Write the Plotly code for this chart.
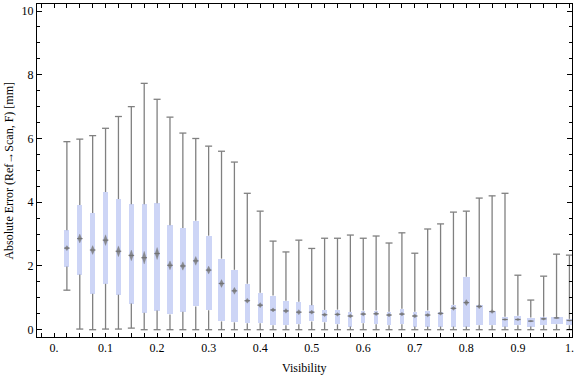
import plotly.graph_objects as go

# ---------------- data ----------------
visibility = [0.025, 0.05, 0.075, 0.1, 0.125, 0.15, 0.175, 0.2, 0.225, 0.25,
              0.275, 0.3, 0.325, 0.35, 0.375, 0.4, 0.425, 0.45, 0.475, 0.5,
              0.525, 0.55, 0.575, 0.6, 0.625, 0.65, 0.675, 0.7, 0.725, 0.75,
              0.775, 0.8, 0.825, 0.85, 0.875, 0.9, 0.925, 0.95, 0.975, 1.0]

err_max = [5.90, 5.98, 6.09, 6.32, 6.69, 7.00, 7.73, 7.23, 6.67, 6.17,
           6.00, 5.76, 5.60, 5.26, 4.28, 3.72, 2.78, 2.44, 2.81, 2.55,
           2.87, 2.87, 2.97, 2.87, 2.94, 2.72, 3.04, 2.40, 3.16, 3.32,
           3.69, 3.72, 4.13, 4.20, 4.28, 1.71, 0.93, 1.68, 2.37, 2.34]

err_q3 = [3.12, 3.91, 3.66, 4.32, 4.10, 3.94, 3.94, 3.97, 3.28, 3.19,
          3.42, 2.95, 2.23, 1.88, 1.44, 1.16, 1.07, 0.91, 0.88, 0.77,
          0.62, 0.63, 0.56, 0.60, 0.60, 0.56, 0.66, 0.56, 0.60, 0.55,
          0.78, 1.66, 0.78, 0.60, 0.41, 0.44, 0.38, 0.41, 0.39, 0.34]

err_median = [2.56, 2.86, 2.50, 2.81, 2.46, 2.33, 2.26, 2.39, 2.02, 2.00,
              2.16, 1.87, 1.45, 1.22, 0.91, 0.77, 0.62, 0.59, 0.55, 0.55,
              0.47, 0.48, 0.43, 0.49, 0.50, 0.46, 0.49, 0.43, 0.46, 0.51,
              0.67, 0.85, 0.73, 0.57, 0.32, 0.32, 0.27, 0.34, 0.37, 0.29]

err_q1 = [1.98, 1.73, 1.13, 1.44, 1.10, 0.82, 0.53, 0.60, 0.48, 0.56,
          0.73, 0.61, 0.26, 0.23, 0.20, 0.20, 0.14, 0.14, 0.17, 0.26,
          0.23, 0.17, 0.10, 0.20, 0.17, 0.14, 0.17, 0.10, 0.10, 0.10,
          0.10, 0.10, 0.14, 0.14, 0.10, 0.14, 0.10, 0.14, 0.17, 0.14]

err_min = [1.24, 0.02, 0.00, 0.02, 0.02, 0.05, 0.00, 0.00, 0.00, 0.00,
           0.00, 0.00, 0.00, 0.00, 0.00, 0.00, 0.00, 0.00, 0.00, 0.00,
           0.00, 0.00, 0.00, 0.00, 0.00, 0.00, 0.00, 0.00, 0.00, 0.00,
           0.00, 0.00, 0.00, 0.00, 0.00, 0.00, 0.00, 0.00, 0.00, 0.00]

# height of the median confidence diamond (value units)
median_ci = [0.16, 0.28, 0.28, 0.34, 0.34, 0.34, 0.40, 0.38, 0.28, 0.27,
             0.28, 0.25, 0.25, 0.22, 0.16, 0.16, 0.13, 0.15, 0.16, 0.13,
             0.12, 0.12, 0.12, 0.12, 0.12, 0.12, 0.12, 0.12, 0.12, 0.12,
             0.13, 0.19, 0.15, 0.12, 0.06, 0.08, 0.05, 0.09, 0.05, 0.05]

x_ticks = [0.0, 0.1, 0.2, 0.3, 0.4, 0.5, 0.6, 0.7, 0.8, 0.9, 1.0]
x_ticktext = ["0.", "0.1", "0.2", "0.3", "0.4", "0.5", "0.6", "0.7", "0.8", "0.9", "1."]
y_ticks = [0, 2, 4, 6, 8, 10]

# ---------------- style ----------------
box_width_px = [5, 5.3, 5, 5, 5.3, 5.3, 5.3, 5.3, 6, 6,
                6, 6, 6.3, 6.3, 5.3, 5.3, 5.7, 5.3, 5.3, 5,
                4.3, 4.3, 4, 4, 4, 4, 4.3, 4.3, 5, 5,
                5.7, 7, 7, 7, 7, 7, 7.7, 7, 12, 7.7]
PX_PER_X = 517.6
BOX_COLOR = "rgb(205,213,246)"
GRAY = "rgb(128,128,128)"
FONT = "Liberation Serif"

W, H = 576, 377
L, R, T, B = 37, 2, 4, 40

fig = go.Figure()

# boxes
fig.add_trace(go.Bar(
    x=visibility,
    y=[q3 - q1 for q1, q3 in zip(err_q1, err_q3)],
    base=err_q1,
    width=[w / PX_PER_X for w in box_width_px],
    marker=dict(color=BOX_COLOR, line=dict(width=0)),
    hoverinfo="skip",
))

# whiskers
wx, wy = [], []
for v, mn, q1, q3, mx in zip(visibility, err_min, err_q1, err_q3, err_max):
    wx += [v, v, None, v, v, None]
    wy += [q3, mx, None, mn, q1, None]
fig.add_trace(go.Scatter(x=wx, y=wy, mode="lines",
                         line=dict(color=GRAY, width=1.3), hoverinfo="skip"))

# whisker caps
fig.add_trace(go.Scatter(
    x=visibility + visibility, y=err_max + err_min, mode="markers",
    marker=dict(symbol="line-ew", size=5, line=dict(color=GRAY, width=1.3)),
    hoverinfo="skip"))

# median diamonds
hw = 2.0 / PX_PER_X
dx, dy = [], []
for v, m, h in zip(visibility, err_median, median_ci):
    dx += [v - hw, v, v + hw, v, v - hw, None]
    dy += [m, m + h / 2, m, m - h / 2, m, None]
fig.add_trace(go.Scatter(x=dx, y=dy, mode="lines", fill="toself",
                         fillcolor="rgba(120,120,120,0.8)",
                         line=dict(color="rgba(120,120,120,0.5)", width=0.5),
                         hoverinfo="skip"))
fig.add_trace(go.Scatter(
    x=visibility, y=err_median, mode="markers",
    marker=dict(symbol="line-ew", size=4, line=dict(color="rgba(110,110,110,0.85)", width=1.2)),
    hoverinfo="skip"))

axis_common = dict(showline=True, linecolor="black", linewidth=1, mirror="ticks",
                   ticks="inside", tickcolor="black", showgrid=False, zeroline=False,
                   tickfont=dict(family=FONT, size=12, color="black"))

fig.update_layout(
    width=W, height=H,
    margin=dict(l=L, r=R, t=T, b=B),
    paper_bgcolor="white", plot_bgcolor="white",
    showlegend=False, bargap=0,
    xaxis=dict(range=[-0.033, 1.005], tickvals=x_ticks, ticktext=x_ticktext,
               ticklen=4,
               minor=dict(dtick=0.025, tick0=0, ticks="inside", ticklen=4,
                          tickcolor="black", showgrid=False),
               **axis_common),
    yaxis=dict(range=[-0.229, 10.22], tickvals=y_ticks, ticklen=5,
               minor=dict(dtick=0.5, tick0=0, ticks="inside", ticklen=3,
                          tickcolor="black", showgrid=False),
               **axis_common),
    annotations=[
        dict(text="Visibility", xref="paper", yref="paper", x=0.5, y=-0.093,
             xanchor="center", yanchor="middle", showarrow=False,
             font=dict(family=FONT, size=12, color="black")),
        dict(text="Absolute Error (Ref\u2192Scan, F) [mm]", xref="paper", yref="paper",
             x=-0.054, y=0.5, xanchor="center", yanchor="middle", textangle=-90,
             showarrow=False, font=dict(family=FONT, size=12, color="black")),
    ],
)

fig.write_html("out.html",
               config={"displayModeBar": False},
               post_script="document.body.style.margin='0px';document.body.style.padding='0px';")
